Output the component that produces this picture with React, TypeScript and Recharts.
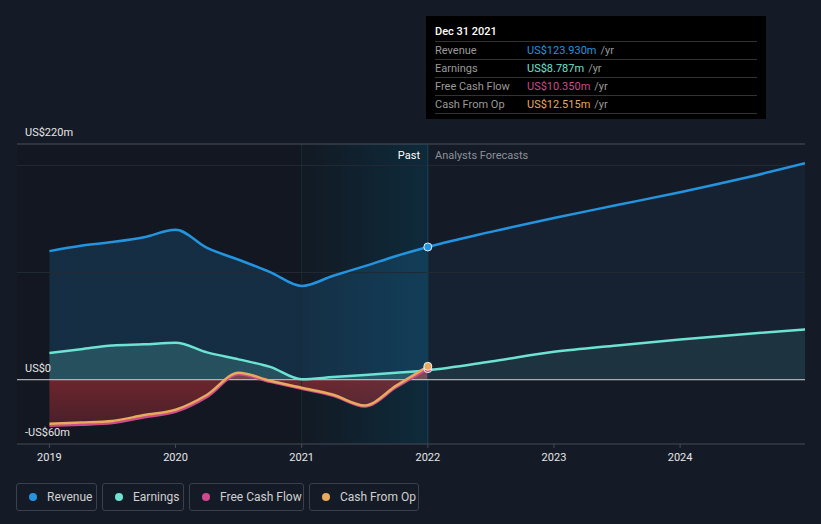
import React from 'react';
import {
  ComposedChart,
  Area,
  Line,
  XAxis,
  YAxis,
  ReferenceLine,
  ReferenceArea,
} from 'recharts';

const periods = [
  2019, 2019.25, 2019.5, 2019.75, 2020, 2020.25, 2020.5, 2020.75, 2021, 2021.25, 2021.5, 2021.75, 2022,
  2022.5, 2023, 2023.5, 2024, 2024.5, 2024.99,
];
const revenue = [120, 125, 128.5, 133, 140, 123, 112, 100.5, 87.5, 97, 106, 115.5, 123.9, 138, 151, 163, 175, 188, 202];
const earnings = [25, 28.5, 32, 33, 34.5, 25.5, 19, 12, 0.5, 2.5, 4.5, 6.5, 8.8, 17, 26, 32, 37.5, 42.5, 47];
const freeCashFlow = [-43, -42, -40.5, -35, -30, -16, 5, -2, -8.5, -15, -25, -7, 10.35];
const cashFromOp = [-41, -40, -38.5, -33, -28, -14, 6.5, -1, -7.5, -14, -24, -5.5, 12.5];
const xTicks = [2019, 2020, 2021, 2022, 2023, 2024];
const yTicks = [-60, 0, 220];
const yLabels: Record<string, string> = { '-60': '-US$60m', '0': 'US$0', '220': 'US$220m' };

const COLORS = {
  revenue: '#2394df',
  earnings: '#6de3d3',
  fcf: '#cf4a8c',
  cfo: '#e8aa5c',
};

const tooltipRows = [
  { label: 'Revenue', value: 'US$123.930m', color: COLORS.revenue },
  { label: 'Earnings', value: 'US$8.787m', color: COLORS.earnings },
  { label: 'Free Cash Flow', value: 'US$10.350m', color: COLORS.fcf },
  { label: 'Cash From Op', value: 'US$12.515m', color: COLORS.cfo },
];

const legendItems = [
  { label: 'Revenue', color: COLORS.revenue, left: 16, width: 81 },
  { label: 'Earnings', color: COLORS.earnings, left: 102, width: 82 },
  { label: 'Free Cash Flow', color: COLORS.fcf, left: 189, width: 115 },
  { label: 'Cash From Op', color: COLORS.cfo, left: 309, width: 110 },
];

const data = periods.map((p, i) => ({
  year: p,
  revenue: revenue[i],
  earnings: earnings[i],
  fcf: i < freeCashFlow.length ? freeCashFlow[i] : null,
  cfo: i < cashFromOp.length ? cashFromOp[i] : null,
}));

const LAST_PAST = 12;

const makeDot = (color: string) => (props: any) => {
  const { cx, cy, index } = props;
  if (index !== LAST_PAST || cx == null || cy == null) return <g key={index} />;
  return <circle key={index} cx={cx} cy={cy} r={4} fill={color} stroke="#e8eef5" strokeWidth={1} />;
};

const renderYTick = (props: any) => {
  const { y, payload } = props;
  return (
    <text key={payload.value} x={25} y={y - 8} fill="#e6e6e6" fontSize={11} fontFamily="Roboto, sans-serif">
      {yLabels[String(payload.value)]}
    </text>
  );
};

export default function App() {
  const font = 'Roboto, sans-serif';
  return (
    <div
      style={{
        position: 'absolute',
        left: 0,
        top: 0,
        width: 821,
        height: 524,
        background: '#151b26',
        fontFamily: font,
        overflow: 'hidden',
      }}
    >
      <ComposedChart width={821} height={524} data={data} margin={{ top: 144, right: 16, bottom: 50, left: 16 }}>
        <defs>
          <linearGradient id="pastHighlight" x1="0" y1="0" x2="1" y2="0">
            <stop offset="0%" stopColor="#0f1820" stopOpacity={1} />
            <stop offset="100%" stopColor="#073a4f" stopOpacity={1} />
          </linearGradient>
          <linearGradient id="revFill" x1="0" y1="0" x2="1" y2="0">
            <stop offset="0%" stopColor={COLORS.revenue} stopOpacity={0.3} />
            <stop offset="50%" stopColor={COLORS.revenue} stopOpacity={0.3} />
            <stop offset="50%" stopColor={COLORS.revenue} stopOpacity={0.1} />
            <stop offset="100%" stopColor={COLORS.revenue} stopOpacity={0.1} />
          </linearGradient>
          <linearGradient id="earnFill" x1="0" y1="0" x2="1" y2="0">
            <stop offset="0%" stopColor={COLORS.earnings} stopOpacity={0.32} />
            <stop offset="50%" stopColor={COLORS.earnings} stopOpacity={0.32} />
            <stop offset="50%" stopColor={COLORS.earnings} stopOpacity={0.15} />
            <stop offset="100%" stopColor={COLORS.earnings} stopOpacity={0.15} />
          </linearGradient>
          <linearGradient id="fcfFill" x1="0" y1="0" x2="0" y2="1">
            <stop offset="0%" stopColor="#d8363c" stopOpacity={0.5} />
            <stop offset="100%" stopColor="#d8363c" stopOpacity={0.28} />
          </linearGradient>
        </defs>
        <XAxis
          dataKey="year"
          type="number"
          domain={[2018.743, 2024.99]}
          ticks={xTicks}
          allowDataOverflow
          height={30}
          axisLine={{ stroke: '#454b56' }}
          tickLine={{ stroke: '#454b56' }}
          tickSize={4}
          tick={{ fill: '#e6e6e6', fontSize: 11, fontFamily: font }}
          tickMargin={5}
        />
        <YAxis
          type="number"
          domain={[-60, 220]}
          ticks={yTicks}
          allowDataOverflow
          width={1}
          axisLine={false}
          tickLine={false}
          tick={renderYTick}
        />
        <ReferenceArea x1={2018.743} x2={2021} y1={-60} y2={220} fill="#0c1016" fillOpacity={0.3} stroke="none" />
        <ReferenceArea x1={2021} x2={2022} y1={-60} y2={220} fill="url(#pastHighlight)" stroke="none" />
        <ReferenceLine x={2021} stroke="#1b2a35" />
        <ReferenceLine y={200} stroke="#222a35" />
        <ReferenceLine y={100} stroke="#222a35" />
        <ReferenceLine y={220} stroke="#4a505a" />
        <ReferenceLine x={2022} stroke="#164457" />
        <Area
          type="monotone"
          dataKey="revenue"
          stroke="none"
          fill="url(#revFill)"
          baseValue={0}
          isAnimationActive={false}
        />
        <Area
          type="monotone"
          dataKey="earnings"
          stroke="none"
          fill="url(#earnFill)"
          baseValue={0}
          isAnimationActive={false}
        />
        <Area
          type="monotone"
          dataKey="fcf"
          stroke="none"
          fill="url(#fcfFill)"
          fillOpacity={1}
          baseValue={0}
          isAnimationActive={false}
        />
        <ReferenceLine y={0} stroke="#d0d0d0" />
        <Line
          type="monotone"
          dataKey="revenue"
          stroke={COLORS.revenue}
          strokeWidth={2.5}
          dot={makeDot(COLORS.revenue)}
          activeDot={false}
          isAnimationActive={false}
        />
        <Line
          type="monotone"
          dataKey="earnings"
          stroke={COLORS.earnings}
          strokeWidth={2.5}
          dot={false}
          activeDot={false}
          isAnimationActive={false}
        />
        <Line
          type="monotone"
          dataKey="fcf"
          stroke={COLORS.fcf}
          strokeWidth={2.5}
          dot={makeDot(COLORS.fcf)}
          activeDot={false}
          connectNulls={false}
          isAnimationActive={false}
        />
        <Line
          type="monotone"
          dataKey="cfo"
          stroke={COLORS.cfo}
          strokeWidth={2.5}
          dot={makeDot(COLORS.cfo)}
          activeDot={false}
          connectNulls={false}
          isAnimationActive={false}
        />
      </ComposedChart>

      <div style={{ position: 'absolute', left: 360, width: 60, top: 149, textAlign: 'right', color: '#ffffff', fontSize: 11 }}>
        Past
      </div>
      <div style={{ position: 'absolute', left: 435, top: 149, color: '#8b9099', fontSize: 11 }}>Analysts Forecasts</div>

      <div
        style={{
          position: 'absolute',
          left: 426,
          top: 16,
          width: 340,
          height: 103,
          background: '#000000',
          boxSizing: 'border-box',
          padding: '0 9px',
        }}
      >
        <div style={{ height: 25, lineHeight: '32px', color: '#ffffff', fontSize: 11, fontWeight: 500 }}>Dec 31 2021</div>
        {tooltipRows.map((r) => (
          <div
            key={r.label}
            style={{
              height: 17,
              lineHeight: '17px',
              borderTop: '1px solid #333',
              display: 'flex',
              fontSize: 11,
            }}
          >
            <span style={{ width: 92, color: '#9a9a9a' }}>{r.label}</span>
            <span style={{ color: r.color }}>{r.value}</span>
            <span style={{ color: '#9a9a9a', marginLeft: 4 }}>/yr</span>
          </div>
        ))}
        <div style={{ borderTop: '1px solid #333' }} />
      </div>

      {legendItems.map((it) => (
        <div
          key={it.label}
          style={{
            position: 'absolute',
            left: it.left,
            top: 483,
            width: it.width,
            height: 28,
            boxSizing: 'border-box',
            border: '1px solid #3b404a',
            borderRadius: 3,
            display: 'flex',
            alignItems: 'center',
            paddingLeft: 12,
            color: '#d0d0d0',
            fontSize: 12,
          }}
        >
          <span
            style={{
              display: 'inline-block',
              width: 8,
              height: 8,
              borderRadius: 4,
              background: it.color,
              marginRight: 10,
            }}
          />
          {it.label}
        </div>
      ))}
    </div>
  );
}
